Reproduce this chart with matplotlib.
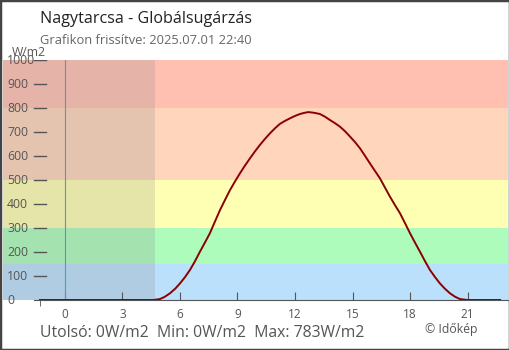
import matplotlib.pyplot as plt
from matplotlib.patches import Rectangle
import matplotlib.transforms as mtransforms

plt.rcParams['font.family'] = ['Open Sans', 'DejaVu Sans']

### Data ###
hours = [-1.3, 0, 2, 4, 4.6, 4.96, 5.2, 5.48, 5.75, 6.0, 6.26, 6.52, 6.78, 7.04, 7.3,
         7.56, 7.82, 8.09, 8.35, 8.61, 8.87, 9.13, 9.39, 9.65, 9.91, 10.17, 10.43,
         10.69, 10.95, 11.2, 11.47, 11.74, 12.0, 12.26, 12.5, 12.7, 13.0, 13.3, 13.56,
         13.82, 14.08, 14.35, 14.61, 14.87, 15.13, 15.39, 15.65, 15.91, 16.17, 16.43,
         16.69, 16.95, 17.21, 17.48, 17.74, 18.0, 18.26, 18.52, 18.78, 19.04, 19.3,
         19.56, 19.82, 20.08, 20.34, 20.6, 21.0, 22.7]
radiation = [0, 0, 0, 0, 0, 4, 13, 28, 47, 69, 95, 125, 161, 201, 239,
             278, 326, 375, 417, 458, 494, 528, 560, 590, 619, 646, 671,
             694, 715, 733, 746, 757, 767, 775, 780, 783, 780, 775, 764,
             750, 737, 722, 703, 681, 658, 632, 601, 569, 538, 507,
             469, 431, 396, 361, 320, 278, 239, 201, 162, 125, 96,
             69, 47, 28, 14, 4, 0, 0]
band_edges = [0, 150, 300, 500, 800, 1000]
band_colors = ['#bbe0fb', '#adfcbc', '#ffffb4', '#ffd6bb', '#ffc0b2']
night_end = 4.7
yticks = [0, 100, 200, 300, 400, 500, 600, 700, 800, 900, 1000]
xticks = [0, 3, 6, 9, 12, 15, 18, 21]
title = "Nagytarcsa - Globálsugárzás"
subtitle = "Grafikon frissítve: 2025.07.01 22:40"
summary = "Utolsó: 0W/m2  Min: 0W/m2  Max: 783W/m2"
#############

fig = plt.figure(figsize=(5.1, 3.5), dpi=100)
ax = fig.add_axes([3 / 510, 50 / 350, 505 / 510, 240 / 350])
ax.set_xlim(-3.23, 23.11)
ax.set_ylim(0, 1000)

for lo, hi, c in zip(band_edges[:-1], band_edges[1:], band_colors):
    ax.axhspan(lo, hi, color=c, lw=0, zorder=0)
ax.axvspan(-3.23, night_end, color='#808080', alpha=0.2, lw=0, zorder=1)
ax.axvline(0, color='#4a9ad0', lw=0.8, zorder=2)

ax.plot(hours, radiation, color='#8b0000', lw=1.4, zorder=3)

for s in ['left', 'top', 'right']:
    ax.spines[s].set_visible(False)
ax.spines['bottom'].set_color('#555555')
ax.spines['bottom'].set_bounds(-1.62, 23.11)
ax.set_xticks(xticks)
ax.set_xticks([-1.3], minor=True)
ax.tick_params(axis='x', which='major', direction='in', length=6, pad=6,
               colors='#555555', labelsize=8.5)
ax.tick_params(axis='x', which='minor', direction='out', length=4, colors='#555555')
ax.set_yticks([])

# y labels inside the plot area
trans = mtransforms.blended_transform_factory(ax.transAxes, ax.transData)
for v in yticks:
    ax.text(4 / 505, v, str(v), transform=trans, ha='left', va='center',
            fontsize=8.8, color='#555555', zorder=5)
    if v > 0:
        ax.plot([31 / 505, 43 / 505], [v, v], transform=trans, color='#555555',
                lw=1, zorder=5)

fig.text(40 / 510, 1 - 19 / 350, title, fontsize=11.6, color='#222222', va='center')
fig.text(40 / 510, 1 - 41 / 350, subtitle, fontsize=9.3, color='#666666', va='center')
fig.text(12 / 510, 1 - 52 / 350, "W/m2", fontsize=8.8, color='#555555', va='center')
fig.text(40 / 510, 1 - 333 / 350, summary, fontsize=11.3, color='#555555', va='center')
fig.text(425 / 510, 1 - 330 / 350, "© Időkép", fontsize=8.8, color='#555555', va='center')

fig.patches.append(Rectangle((0, 0), 1, 1, transform=fig.transFigure, fill=False,
                             edgecolor='#444444', lw=2.5))

fig.savefig('out.png', dpi=100)
